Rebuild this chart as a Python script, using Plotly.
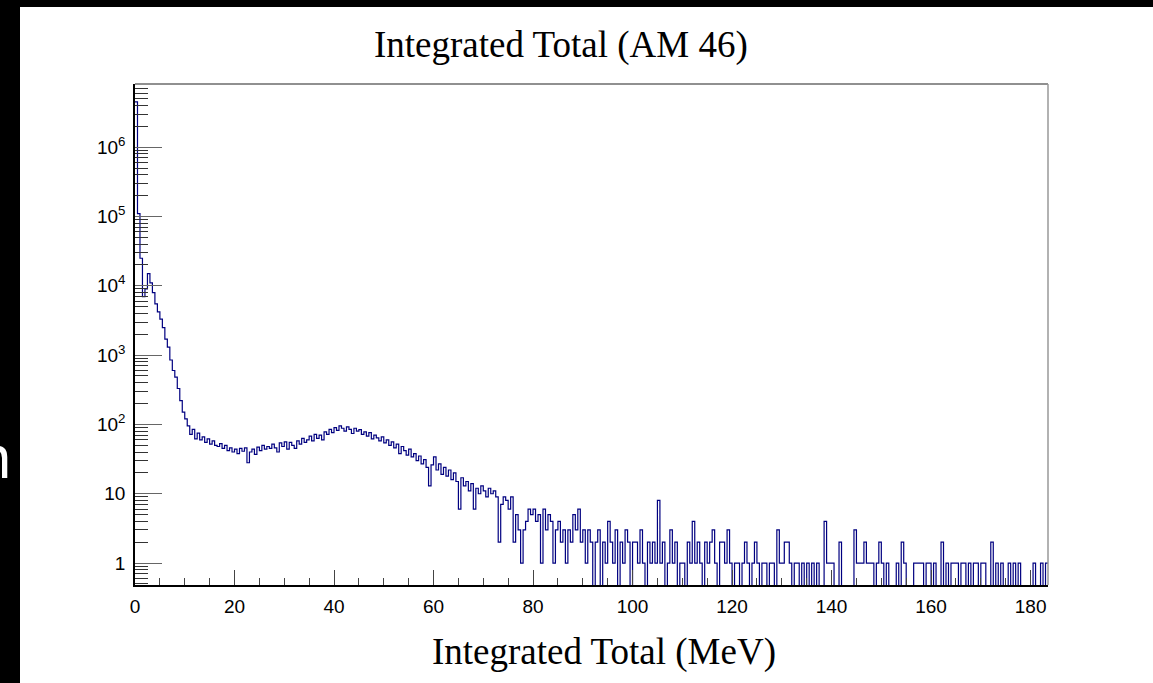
import numpy as np
import plotly.graph_objects as go

# ---------------- data ----------------
bin_start = 0.0          # MeV
bin_width = 0.5          # MeV
counts = [
    # 0-5
    4500000, 110000, 25000, 7000, 9000, 15000, 11000, 8000, 5500, 4200,
    # 5-10
    3300, 2500, 1700, 1300, 850, 600, 480, 330, 220, 150,
    # 10-15
    120, 95, 72, 85, 62, 75, 60, 66, 55, 62,
    # 15-20
    52, 58, 50, 48, 53, 45, 50, 42, 46, 40,
    # 20-25
    44, 38, 45, 41, 46, 28, 40, 44, 37, 47,
    # 25-30
    42, 50, 44, 48, 45, 52, 46, 40, 54, 48,
    # 30-35
    56, 44, 55, 50, 45, 58, 52, 63, 55, 60,
    # 35-40
    68, 58, 72, 63, 70, 60, 78, 72, 85, 76,
    # 40-45
    90, 82, 95, 88, 80, 92, 85, 74, 88, 80,
    # 45-50
    84, 72, 78, 68, 76, 62, 70, 64, 58, 66,
    # 50-55
    54, 60, 50, 56, 46, 52, 38, 48, 42, 36,
    # 55-60
    44, 34, 38, 30, 35, 27, 31, 24, 13, 26,
    # 60-65
    34, 22, 27, 19, 24, 18, 22, 16, 20, 15,
    # 65-70
    6, 17, 13, 15, 11, 14, 6, 12, 10, 13,
    # 70-75
    11, 9, 12, 10, 11, 9, 2, 7, 9, 8,
    # 75-80
    6, 9, 2, 5, 3, 1, 3, 4, 6, 5,
    # 80-85
    6, 4, 5, 1, 6, 3, 5, 4, 1, 3,
    # 85-90
    4, 2, 3, 1, 3, 2, 5, 3, 6, 2,
    # 90-95
    3, 1, 3, 2, 0, 2, 3, 0, 2, 1,
    # 95-100
    4, 2, 1, 3, 0, 2, 1, 3, 2, 0,
    # 100-105
    2, 2, 1, 3, 1, 0, 2, 1, 2, 1,
    # 105-110
    8, 1, 2, 0, 1, 3, 1, 2, 0, 1,
    # 110-115
    1, 0, 2, 1, 4, 1, 2, 1, 0, 2,
    # 115-120
    1, 2, 3, 1, 0, 2, 2, 1, 3, 1,
    # 120-125
    0, 1, 1, 0, 1, 2, 1, 0, 1, 2,
    # 125-130
    1, 0, 1, 1, 0, 1, 1, 0, 3, 1,
    # 130-135
    1, 2, 2, 1, 0, 1, 1, 0, 1, 0,
    # 135-140
    1, 0, 1, 0, 1, 0, 0, 4, 1, 1,
    # 140-145
    1, 0, 0, 2, 0, 0, 0, 0, 0, 3,
    # 145-150
    1, 1, 1, 2, 1, 1, 1, 0, 1, 2,
    # 150-155
    1, 0, 1, 0, 0, 0, 1, 0, 2, 1,
    # 155-160
    0, 0, 0, 1, 1, 1, 1, 0, 1, 1,
    # 160-165
    0, 1, 0, 0, 2, 0, 1, 0, 1, 1,
    # 165-170
    1, 0, 1, 1, 0, 1, 0, 1, 1, 0,
    # 170-175
    1, 1, 0, 0, 2, 0, 1, 0, 1, 0,
    # 175-180
    0, 1, 0, 1, 0, 1, 0, 0, 0, 0,
    # 180-183.5
    0, 1, 0, 0, 1, 0, 1,
]
x_tick_vals = [0, 20, 40, 60, 80, 100, 120, 140, 160, 180]
y_tick_vals = [1, 10, 100, 1000, 10000, 100000, 1000000]
y_tick_text = ["1", "10", "10<sup>2</sup>", "10<sup>3</sup>", "10<sup>4</sup>",
               "10<sup>5</sup>", "10<sup>6</sup>"]
title_text = "Integrated Total (AM 46)"
x_title_text = "Integrated Total (MeV)"

# ---------------- layout geometry ----------------
W, H = 1153, 683
L, R, T, B = 135, 1048, 84, 585
PW, PH = R - L, B - T

def px(xp):
    return (xp - L) / PW

def py(yp):
    return (B - yp) / PH

counts_arr = np.array(counts, dtype=float)
n = len(counts_arr)
edges = bin_start + bin_width * np.arange(n + 1)
y_plot = np.where(counts_arr > 0, counts_arr, 1e-3)
y_plot = np.append(y_plot, y_plot[-1])

x_max = bin_start + bin_width * n
y_lo, y_hi = -0.317, 6.912

minor_y = [m * 10.0 ** k for k in range(-1, 7) for m in range(2, 10)
           if y_lo < np.log10(m * 10.0 ** k) < y_hi]

fig = go.Figure()
fig.add_trace(go.Scatter(
    x=edges, y=y_plot, mode="lines", line_shape="hv",
    line=dict(color="#000080", width=1.2), hoverinfo="skip", showlegend=False,
))

fig.update_layout(
    width=W, height=H,
    margin=dict(l=L, r=W - R, t=T, b=H - B, pad=0),
    paper_bgcolor="white", plot_bgcolor="white",
    showlegend=False,
    xaxis=dict(
        range=[0, x_max], showgrid=False, zeroline=False,
        showline=True, linecolor="black", linewidth=1.5,
        tickmode="array", tickvals=x_tick_vals,
        ticks="inside", ticklen=15, tickwidth=1, tickcolor="#444",
        tickfont=dict(family="Liberation Sans, Arial", size=19, color="black"),
        minor=dict(dtick=5, tick0=0, ticks="inside", ticklen=7, tickwidth=1, tickcolor="#444"),
        ticklabelstandoff=3,
    ),
    yaxis=dict(
        type="log", range=[y_lo, y_hi], showgrid=False, zeroline=False,
        showline=True, linecolor="black", linewidth=1.5,
        tickmode="array", tickvals=y_tick_vals, ticktext=y_tick_text,
        ticks="inside", ticklen=27, tickwidth=1, tickcolor="#666",
        tickfont=dict(family="Liberation Sans, Arial", size=19, color="black"),
        minor=dict(tickmode="array", tickvals=minor_y, ticks="inside", ticklen=13,
                   tickwidth=1, tickcolor="#333"),
        ticklabelstandoff=4,
    ),
)

shapes = [
    # black screen border strips
    dict(type="rect", xref="paper", yref="paper", x0=px(0), x1=px(20), y0=py(H), y1=py(0),
         fillcolor="black", line_width=0, layer="above"),
    dict(type="rect", xref="paper", yref="paper", x0=px(0), x1=px(W), y0=py(7), y1=py(0),
         fillcolor="black", line_width=0, layer="above"),
    # frame top and right
    dict(type="line", xref="paper", yref="paper", x0=0, x1=1, y0=1, y1=1,
         line=dict(color="#222", width=1.2)),
    dict(type="line", xref="paper", yref="paper", x0=1, x1=1, y0=0, y1=1,
         line=dict(color="#999", width=1.5)),
]
fig.update_layout(shapes=shapes)

fig.add_annotation(text=title_text, xref="paper", yref="paper",
                   x=px(560.5), y=py(45), xanchor="center", yanchor="middle",
                   showarrow=False,
                   font=dict(family="Liberation Serif, Times New Roman", size=37, color="black"))
fig.add_annotation(text=x_title_text, xref="paper", yref="paper",
                   x=px(604), y=py(652), xanchor="center", yanchor="middle",
                   showarrow=False,
                   font=dict(family="Liberation Serif, Times New Roman", size=37, color="black"))
fig.add_annotation(text="n", xref="paper", yref="paper",
                   x=px(14), y=py(455), xanchor="right", yanchor="middle",
                   showarrow=False,
                   font=dict(family="Noto Sans", size=60, color="white"))

fig.write_html("out.html", config={"displayModeBar": False},
               post_script="document.body.style.margin='0px';")
